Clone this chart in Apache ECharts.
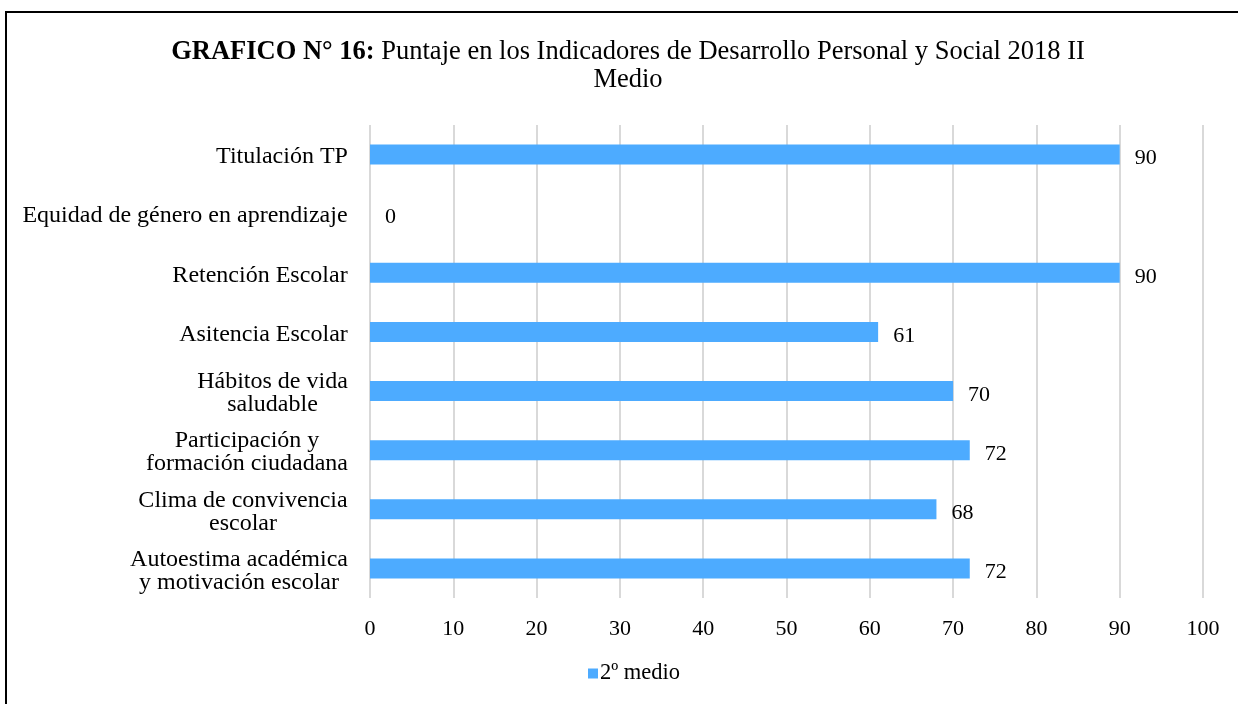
<!DOCTYPE html>
<html>
<head>
<meta charset="utf-8">
<script src="https://cdn.jsdelivr.net/npm/echarts@6/dist/echarts.min.js"></script>
<style>
  html, body { margin: 0; padding: 0; background: #fff; overflow: hidden; }
  #frame {
    position: absolute; left: 5px; top: 11px; width: 1240px; height: 700px;
    border-left: 2px solid #000; border-top: 2px solid #000;
  }
  #chart { position: absolute; left: 0; top: 0; width: 1238px; height: 704px; }
</style>
</head>
<body>
<div id="frame"></div>
<div id="chart"></div>
<script>
// categories listed bottom to top (ECharts category axis starts at the bottom)
const categories = [
  'Autoestima académica\ny motivación escolar',
  'Clima de convivencia\nescolar',
  'Participación y\nformación ciudadana',
  'Hábitos de vida\nsaludable',
  'Asitencia Escolar',
  'Retención Escolar',
  'Equidad de género en aprendizaje',
  'Titulación TP',
];
const values = [72, 68, 72, 70, 61, 90, 0, 90];
const seriesName = '2º medio';

const chart = echarts.init(document.getElementById('chart'));
const font = "'Liberation Serif', 'Times New Roman', serif";
const labelSize = 24;

// wrapped labels: lines centred with each other, block right-aligned to the axis
const ctx = document.createElement('canvas').getContext('2d');
ctx.font = labelSize + 'px ' + font;
const rich = {};
categories.forEach((c, i) => {
  const w = Math.max(...c.split('\n').map((l) => ctx.measureText(l).width));
  rich['r' + i] = {
    width: Math.ceil(w), align: 'center',
    fontFamily: font, fontSize: labelSize, color: '#000', lineHeight: 23,
  };
});

const option = {
  textStyle: { fontFamily: font },
  title: {
    left: 623,
    textAlign: 'center',
    top: 33,
    text: '{b|GRAFICO N° 16:} Puntaje en los Indicadores de Desarrollo Personal y Social 2018 II\nMedio',
    textStyle: {
      fontFamily: font,
      fontSize: 26.5,
      fontWeight: 'normal',
      color: '#000',
      lineHeight: 28,
      rich: {
        b: { fontFamily: font, fontSize: 26.5, fontWeight: 'bold', color: '#000', lineHeight: 28 },
      },
    },
  },
  legend: {
    bottom: 14,
    left: 583,
    itemWidth: 10,
    itemHeight: 10,
    itemGap: 4,
    icon: 'rect',
    textStyle: { fontFamily: font, fontSize: 22.5, color: '#000', padding: [0, 0, 0, -3] },
    data: [seriesName],
  },
  grid: {
    left: 370,
    right: 35,
    top: 125,
    bottom: 106,
  },
  xAxis: {
    type: 'value',
    min: 0,
    max: 100,
    interval: 10,
    axisLine: { show: false },
    axisTick: { show: false },
    splitLine: { lineStyle: { color: '#d9d9d9', width: 2 } },
    axisLabel: { fontFamily: font, fontSize: 22, color: '#000', margin: 20 },
  },
  yAxis: {
    type: 'category',
    data: categories,
    axisLine: { show: false },
    axisTick: { show: false },
    axisLabel: {
      margin: 22,
      align: 'right',
      padding: [5, 0, 0, 0],
      rich: rich,
      formatter: function (v, i) {
        return v.split('\n').map((l) => '{r' + i + '|' + l + '}').join('\n');
      },
    },
  },
  series: [
    {
      name: seriesName,
      type: 'bar',
      data: values,
      barWidth: 20,
      itemStyle: { color: '#4dabff' },
      label: {
        show: true,
        position: 'right',
        distance: 15,
        fontFamily: font,
        fontSize: 22,
        color: '#000',
        offset: [0, 4],
      },
    },
  ],
};
chart.setOption(option);
</script>
</body>
</html>
